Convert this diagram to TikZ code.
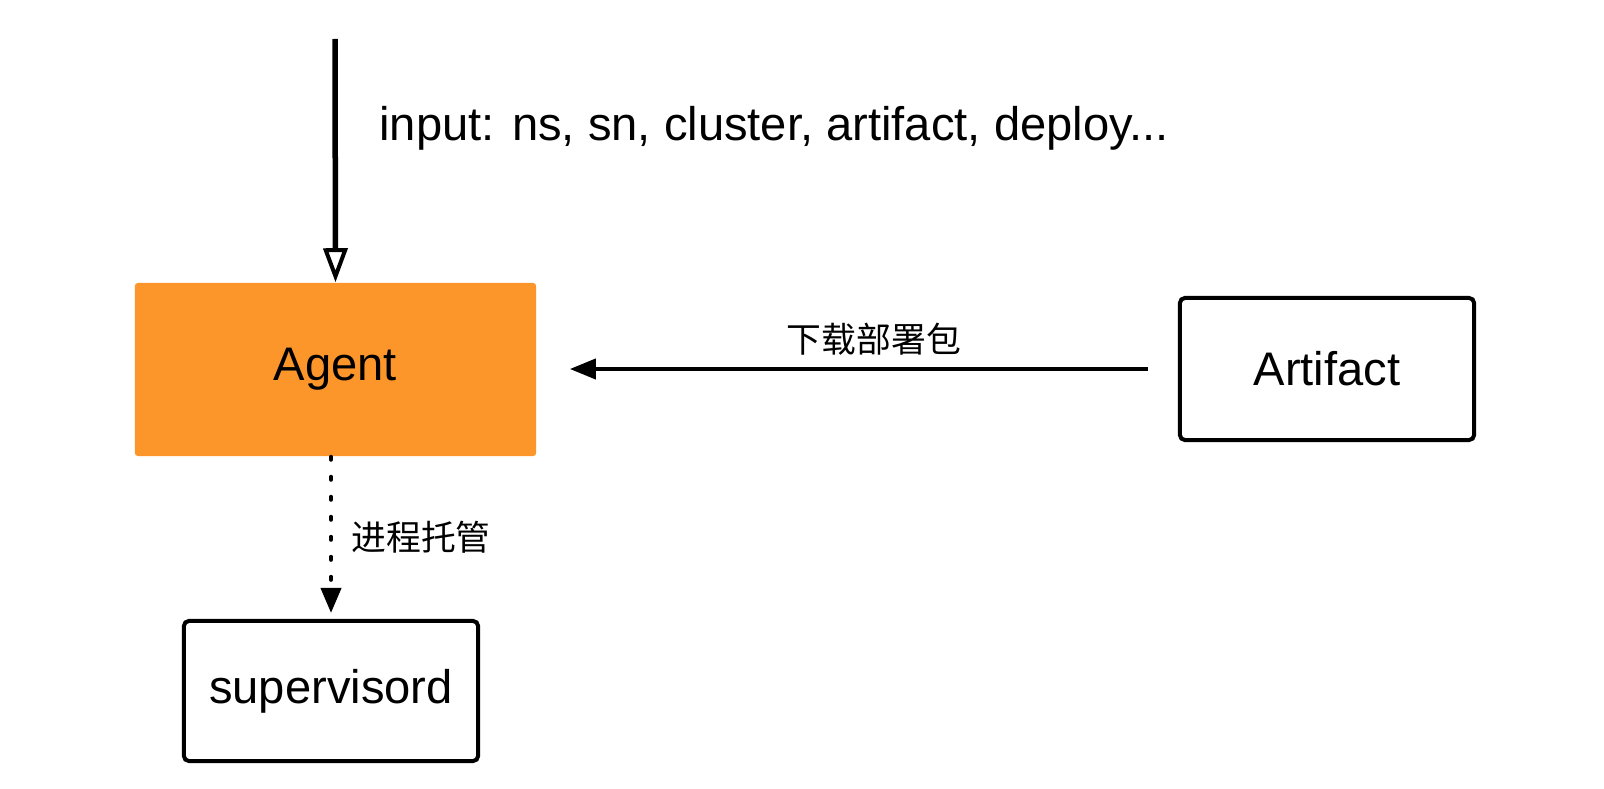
\documentclass[tikz,border=0pt]{standalone}
\usepackage{fontspec}
\setmainfont{Liberation Sans}
\newfontfamily\cjk{Noto Sans CJK SC}
\usetikzlibrary{arrows.meta}
\definecolor{agentorange}{RGB}{252,149,42}
\newcommand{\latinsize}{\fontsize{13.4pt}{16pt}\selectfont}
\newcommand{\cjksize}{\cjk\fontsize{9.9pt}{12pt}\selectfont}

\begin{document}
\begin{tikzpicture}[x=0.01cm, y=-0.01cm,
    agentbox/.style={fill=agentorange, rounded corners=0.03cm, inner sep=0pt,
        minimum width=4.01cm, minimum height=1.73cm, font=\latinsize},
    plainbox/.style={draw, line width=0.04cm, rounded corners=0.05cm, inner sep=0pt,
        minimum width=2.94cm, minimum height=1.42cm, font=\latinsize},
    feedarrow/.style={line width=0.055cm,
        -{Triangle[open, length=0.34cm, width=0.24cm, line width=0.04cm]}},
    fetcharrow/.style={line width=0.04cm, -{Triangle[length=0.26cm, width=0.2cm]}},
    hostarrow/.style={line width=0.04cm, line cap=round, dash pattern=on 0.03cm off 0.17cm,
        -{Triangle[length=0.25cm, width=0.2cm]}}]
    \useasboundingbox (0, 0) rectangle (1604, 788);

    % boxes
    \node[agentbox] (agent) at (335.5, 369.5) {Agent};
    \node[plainbox] (artifact) at (1327, 369) {Artifact};
    \node[plainbox, minimum height=1.40cm] (supervisord) at (331, 691) {supervisord};

    % input from above
    \coordinate (in) at (335, 39);
    \draw[feedarrow] (in) -- (agent.north);
    \node[anchor=base west, font=\latinsize] (inlabel) at (367, 140) {input: ns, sn, cluster, artifact, deploy...};

    % download from artifact
    \draw[fetcharrow, shorten <=0.3cm, shorten >=0.33cm] (artifact.west) -- (artifact.west -| agent.east);
    \node[font=\cjksize] (fetchlabel) at (874, 339) {下载部署包};

    % process hosting
    \draw[hostarrow, shorten >=0.06cm] (agent.south -| supervisord.north) -- (supervisord.north);
    \node[font=\cjksize] (hostlabel) at (421, 537) {进程托管};
\end{tikzpicture}
\end{document}
